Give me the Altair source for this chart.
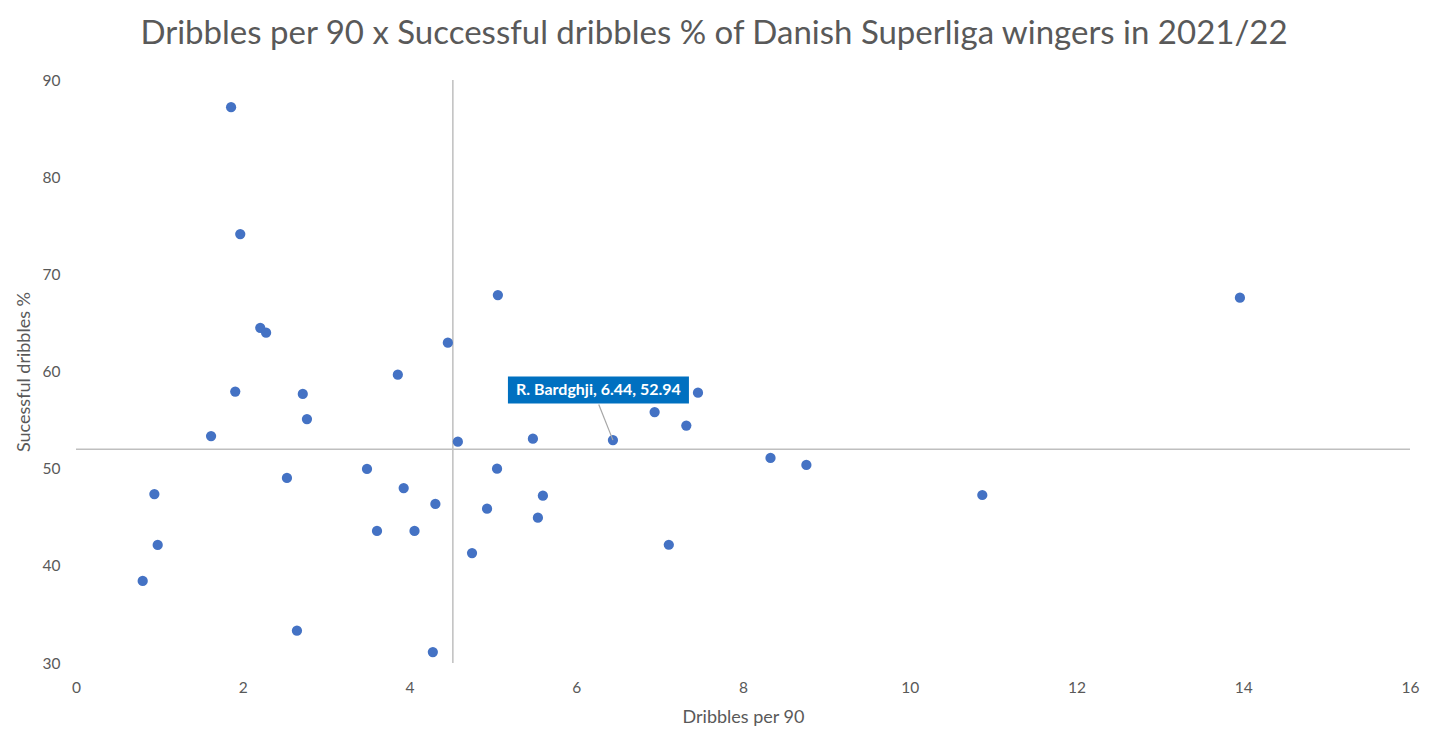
import altair as alt
import pandas as pd

# Data
dribbles_per_90 = [1.86, 1.97, 2.21, 2.28, 4.46, 3.86, 1.91, 2.72, 2.77, 1.62,
                   4.58, 2.53, 3.49, 3.93, 4.31, 0.94, 0.98, 0.80, 3.61, 4.06,
                   4.75, 2.65, 4.28, 5.06, 7.46, 6.94, 7.32, 5.48, 6.44, 5.05,
                   5.60, 4.93, 5.54, 7.11, 8.33, 8.76, 10.87, 13.96]
successful_pct = [87.2, 74.15, 64.5, 64.0, 62.97, 59.67, 57.93, 57.69, 55.11, 53.36,
                  52.78, 49.04, 49.97, 48.01, 46.37, 47.39, 42.15, 38.44, 43.59, 43.59,
                  41.32, 33.33, 31.13, 67.87, 57.82, 55.83, 54.43, 53.09, 52.94, 50.0,
                  47.22, 45.88, 44.96, 42.17, 51.10, 50.38, 47.29, 67.6]

avg_x = [4.52]
avg_y = [52.0]

label_player = ["R. Bardghji"]
label_x = [6.44]
label_y = [52.94]
leader_end_x = [6.27]
leader_end_y = [56.6]

x_ticks = [0, 2, 4, 6, 8, 10, 12, 14, 16]
y_ticks = [30, 40, 50, 60, 70, 80, 90]

FONT = "Lato"
GREY = "#595959"

points = pd.DataFrame({"x": dribbles_per_90, "y": successful_pct})
vline = pd.DataFrame({"x": avg_x})
hline = pd.DataFrame({"y": avg_y})
label_df = pd.DataFrame({
    "x": label_x, "y": label_y, "x2": leader_end_x, "y2": leader_end_y,
    "label": [f"{p}, {a:.2f}, {b:.2f}" for p, a, b in zip(label_player, label_x, label_y)],
})

xscale = alt.Scale(domain=[0, 16], nice=False, zero=False)
yscale = alt.Scale(domain=[30, 90], nice=False, zero=False)

xenc = alt.X("x:Q", scale=xscale, title="Dribbles per 90",
             axis=alt.Axis(values=x_ticks, format="d", labelFlush=False,
                           labelPadding=17, titlePadding=13))
yenc = alt.Y("y:Q", scale=yscale, title="Sucessful dribbles %",
             axis=alt.Axis(values=y_ticks, format="d", labelFlush=False,
                           labelPadding=16, titlePadding=9))

v_rule = alt.Chart(vline).mark_rule(color="#BFBFBF", strokeWidth=1.5).encode(
    x=alt.X("x:Q", scale=xscale))
h_rule = alt.Chart(hline).mark_rule(color="#BFBFBF", strokeWidth=1.5).encode(
    y=alt.Y("y:Q", scale=yscale))

dots = alt.Chart(points).mark_circle(size=105, color="#4472C4", opacity=1).encode(
    x=xenc, y=yenc)

leader = alt.Chart(label_df).mark_rule(color="#A6A6A6", strokeWidth=1.2).encode(
    x=alt.X("x:Q", scale=xscale), y=alt.Y("y:Q", scale=yscale),
    x2="x2:Q", y2="y2:Q")

box_path = "M-1,-0.149L1,-0.149L1,0.149L-1,0.149Z"
box = alt.Chart(label_df).mark_point(
    shape=box_path, size=181 * 181, filled=True, color="#0070C0", opacity=1,
    strokeWidth=0, xOffset=-14.5, yOffset=-50).encode(
    x=alt.X("x:Q", scale=xscale), y=alt.Y("y:Q", scale=yscale))

txt = alt.Chart(label_df).mark_text(
    color="white", font=FONT, fontSize=16, fontWeight="bold", align="center",
    baseline="middle", dx=-14.5, dy=-50).encode(
    x=alt.X("x:Q", scale=xscale), y=alt.Y("y:Q", scale=yscale), text="label:N")

chart = alt.layer(v_rule, h_rule, dots, leader, box, txt).properties(
    width=1334, height=583,
    title=alt.TitleParams(
        text="Dribbles per 90 x Successful dribbles % of Danish Superliga wingers in 2021/22",
        fontSize=33, font=FONT, color=GREY, fontWeight="normal", anchor="middle",
        dx=-29, offset=22),
    autosize=alt.AutoSizeParams(type="none"),
    padding={"left": 68, "top": 72, "right": 14, "bottom": 68},
).configure_view(stroke=None).configure_axis(
    grid=False, domain=False, ticks=False,
    labelFont=FONT, labelFontSize=15.5, labelColor=GREY,
    titleFont=FONT, titleFontSize=18, titleColor=GREY, titleFontWeight="normal",
)

chart.save("out.html", embed_options={"renderer": "svg", "actions": False})
